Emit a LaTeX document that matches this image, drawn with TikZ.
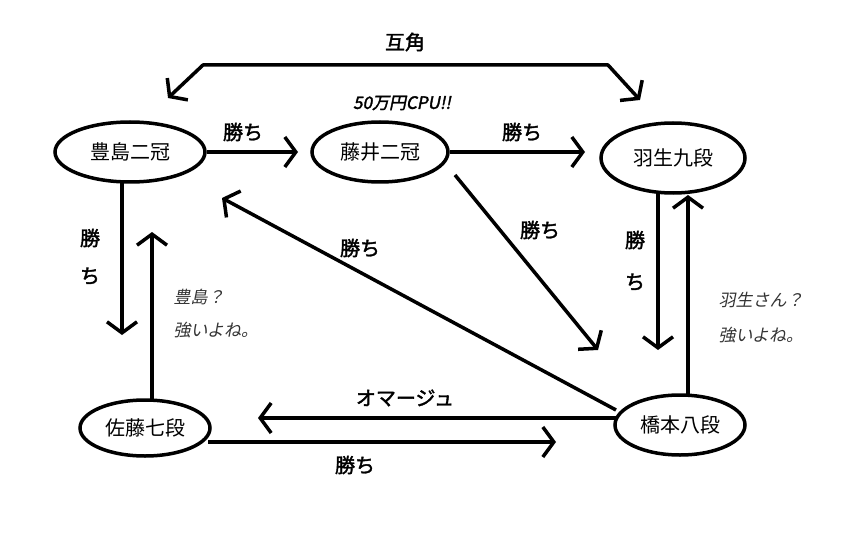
\documentclass[tikz,border=0pt]{standalone}
\usepackage{fontspec}
\setmainfont{Noto Sans CJK JP}
\newfontfamily\jpb{Noto Sans CJK JP}[FakeBold=2]
\newfontfamily\jpit{Noto Sans CJK JP}[FakeSlant=0.2]
\newfontfamily\jpbit{Noto Sans CJK JP}[FakeSlant=0.2,FakeBold=2]
\usetikzlibrary{arrows.meta,shapes.geometric}
\begin{document}
\begin{tikzpicture}[x=1pt,y=-1pt,
  st/.style={ellipse,draw,line width=3.5pt,font=\fontsize{20}{20}\selectfont,inner sep=0pt},
  ar/.style={line width=3.5pt,-{Straight Barb[length=11pt,width=30pt,line width=3.5pt]}},
  lb/.style={font=\jpb\fontsize{20}{20}\selectfont},
  cmt/.style={font=\jpit\fontsize{17}{17}\selectfont,text=black!80}]
\useasboundingbox (0,0) rectangle (864,540);
\node[st,minimum width=150,minimum height=60] (t) at (130,152) {豊島二冠};
\node[st,minimum width=136,minimum height=60] (f) at (380,152) {藤井二冠};
\node[st,minimum width=144,minimum height=70] (h) at (673,158) {羽生九段};
\node[st,minimum width=130,minimum height=56] (s) at (145,428) {佐藤七段};
\node[st,minimum width=130,minimum height=60] (k) at (680,425) {橋本八段};
\coordinate (g1) at (168,98); \coordinate (g2) at (640,100);
\draw[line width=3.5pt,{Straight Barb[length=11pt,width=30pt,line width=3.5pt]}-{Straight Barb[length=11pt,width=30pt,line width=3.5pt]},line join=round]
  (g1) -- (203,65) -- (608,65) -- (g2);
\node[lb] (lg) at (405,42) {互角};
\coordinate (a1) at (298,152); \draw[ar] (t.east) -- (a1);
\node[lb] (l1) at (243,132) {勝ち};
\coordinate (a2) at (585,152); \draw[ar] (f.east) -- (a2);
\node[lb] (l2) at (522,132) {勝ち};
\node[font=\jpbit\fontsize{17}{17}\selectfont] (cpu) at (402,103) {50万円CPU!!};
\coordinate (a3) at (122,335); \draw[ar] (122,182) -- (a3);
\node[lb] (l3a) at (90,238) {勝}; \node[lb] (l3b) at (90,276) {ち};
\coordinate (a4) at (152,232); \draw[ar] (152,400) -- (a4);
\node[cmt,anchor=west] (c1) at (170,297) {豊島？};
\node[cmt,anchor=west] (c2) at (170,330) {強いよね。};
\coordinate (a5) at (658,350); \draw[ar] (658,193) -- (a5);
\node[lb] (l5a) at (635,240) {勝}; \node[lb] (l5b) at (635,282) {ち};
\coordinate (a6) at (688,195); \draw[ar] (688,395) -- (a6);
\node[cmt,anchor=west] (c3) at (715,300) {羽生さん？};
\node[cmt,anchor=west] (c4) at (715,335) {強いよね。};
\coordinate (a7) at (598,350); \draw[ar] (455,175) -- (a7);
\node[lb] (l7) at (540,230) {勝ち};
\coordinate (a8) at (222,198); \draw[ar] (616,410) -- (a8);
\node[lb] (l8) at (360,248) {勝ち};
\coordinate (a9) at (258,418); \draw[ar] (616,418) -- (a9);
\node[lb] (l9) at (405,398) {オマージュ};
\coordinate (a10) at (556,442); \draw[ar] (208,442) -- (a10);
\node[lb] (l10) at (355,465) {勝ち};
\end{tikzpicture}
\end{document}
